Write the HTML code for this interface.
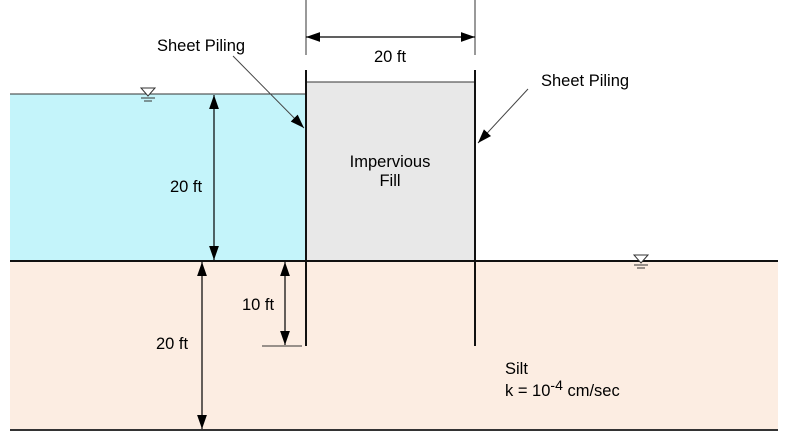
<!DOCTYPE html>
<html><head><meta charset="utf-8"><style>
body{margin:0;background:#fff}
svg{display:block;font-family:"Liberation Sans",Arial,sans-serif;font-size:16.5px}
</style></head><body>
<svg width="798" height="444" viewBox="0 0 798 444">
<defs>
<marker id="ab" viewBox="0 0 10 10" refX="10" refY="5" markerWidth="14" markerHeight="14" orient="auto-start-reverse" markerUnits="userSpaceOnUse"><path d="M0,1.5 L10,5 L0,8.5 z" fill="#000"/></marker>
</defs>
<rect x="10" y="261" width="768" height="169" fill="#fcede2"/>
<rect x="10" y="94" width="296" height="167" fill="#c4f4fa"/>
<line x1="10" y1="94" x2="306" y2="94" stroke="#333" stroke-width="1"/>
<rect x="306" y="82" width="169" height="179" fill="#e8e8e8" stroke="#333" stroke-width="1"/>
<line x1="10" y1="261" x2="778" y2="261" stroke="#111" stroke-width="2"/>
<line x1="10" y1="430" x2="778" y2="430" stroke="#333" stroke-width="2"/>
<line x1="306" y1="70" x2="306" y2="346" stroke="#111" stroke-width="2"/>
<line x1="475" y1="70" x2="475" y2="346" stroke="#111" stroke-width="2"/>
<g stroke="#333">
<line x1="306" y1="0" x2="306" y2="55"/><line x1="475" y1="0" x2="475" y2="55"/>
<line x1="306" y1="37" x2="475" y2="37" stroke="#000" stroke-width="1.2" marker-start="url(#ab)" marker-end="url(#ab)"/>
</g>
<text x="390" y="62" text-anchor="middle">20 ft</text>
<line x1="214" y1="95" x2="214" y2="260" stroke="#000" stroke-width="1.2" marker-start="url(#ab)" marker-end="url(#ab)"/>
<text x="186" y="192" text-anchor="middle">20 ft</text>
<line x1="285" y1="262" x2="285" y2="345" stroke="#000" stroke-width="1.2" marker-start="url(#ab)" marker-end="url(#ab)"/>
<line x1="262" y1="346" x2="302" y2="346" stroke="#333"/>
<text x="258" y="310" text-anchor="middle">10 ft</text>
<line x1="202" y1="262" x2="202" y2="429" stroke="#000" stroke-width="1.2" marker-start="url(#ab)" marker-end="url(#ab)"/>
<text x="172" y="349" text-anchor="middle">20 ft</text>
<g stroke="#333" fill="#fff">
<path d="M141,88 L155,88 L148,96 z"/><line x1="141" y1="98" x2="155" y2="98"/><line x1="144" y1="101" x2="152" y2="101"/>
</g>
<g stroke="#333" fill="#fff">
<path d="M634,255 L648,255 L641,263 z"/><line x1="634" y1="265" x2="648" y2="265"/><line x1="637" y1="268" x2="645" y2="268"/>
</g>
<text x="157" y="51">Sheet Piling</text>
<line x1="233" y1="56" x2="304" y2="128" stroke="#444" marker-end="url(#ab)"/>
<text x="541" y="86">Sheet Piling</text>
<line x1="528" y1="89" x2="478" y2="143" stroke="#444" marker-end="url(#ab)"/>
<text x="390" y="167" text-anchor="middle">Impervious</text>
<text x="390" y="186" text-anchor="middle">Fill</text>
<text x="505" y="374">Silt</text>
<text x="505" y="396">k = 10<tspan dy="-6" font-size="14">-4</tspan><tspan dy="6">  cm/sec</tspan></text>
</svg>
</body></html>
